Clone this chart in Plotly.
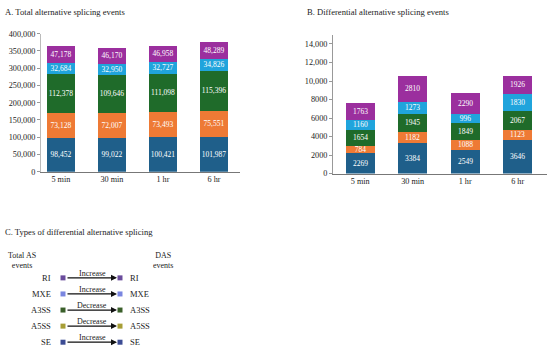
import plotly.graph_objects as go

categories = ["5 min", "30 min", "1 hr", "6 hr"]
series_names = ["SE", "A5SS", "A3SS", "MXE", "RI"]
series_colors = ["#1F5F8A", "#EE7A35", "#1F6B2A", "#20A4DC", "#9B2F9E"]

total_as = {
    "SE":   [98452, 99022, 100421, 101987],
    "A5SS": [73128, 72007, 73493, 75551],
    "A3SS": [112378, 109646, 111098, 115396],
    "MXE":  [32684, 32950, 32727, 34826],
    "RI":   [47178, 46170, 46958, 48289],
}
das = {
    "SE":   [2269, 3384, 2549, 3646],
    "A5SS": [784, 1182, 1088, 1123],
    "A3SS": [1654, 1945, 1849, 2067],
    "MXE":  [1160, 1273, 996, 1830],
    "RI":   [1763, 2810, 2290, 1926],
}

a_tickvals = [0, 50000, 100000, 150000, 200000, 250000, 300000, 350000, 400000]
a_ticktext = ["0", "50,000", "100,000", "150,000", "200,000", "250,000", "300,000", "350,000", "400,000"]
b_tickvals = [0, 2000, 4000, 6000, 8000, 10000, 12000, 14000]
b_ticktext = ["0", "2000", "4000", "6000", "8000", "10,000", "12,000", "14,000"]

c_types = ["RI", "MXE", "A3SS", "A5SS", "SE"]
c_changes = ["Increase", "Increase", "Decrease", "Decrease", "Increase"]
c_colors = ["#6A4C9C", "#7A86E0", "#3A5F2A", "#A79E36", "#3C4C94"]

FONT = "Liberation Serif"
W, H = 550, 355

fig = go.Figure()

for name, color in zip(series_names, series_colors):
    fig.add_trace(go.Bar(
        x=categories, y=total_as[name], name=name, marker_color=color,
        marker_line_width=0, width=0.55,
        text=[f"{v:,}" for v in total_as[name]], textposition="inside", textangle=0,
        insidetextanchor="middle", textfont=dict(color="white", size=7.5, family=FONT),
        xaxis="x", yaxis="y", showlegend=False))
for name, color in zip(series_names, series_colors):
    fig.add_trace(go.Bar(
        x=categories, y=das[name], name=name, marker_color=color,
        marker_line_width=0, width=0.55,
        text=[str(v) for v in das[name]], textposition="inside", textangle=0,
        insidetextanchor="middle", textfont=dict(color="white", size=7.5, family=FONT),
        xaxis="x2", yaxis="y2", showlegend=False))

# Panel C hidden axes (pixel-like units)
row_y = [281, 297.5, 314, 330.5, 347]
fig.add_trace(go.Scatter(
    x=[63] * len(c_types) + [120] * len(c_types), y=row_y + row_y,
    mode="markers", marker=dict(symbol="square", size=5, color=c_colors + c_colors),
    xaxis="x3", yaxis="y3", showlegend=False, hoverinfo="skip"))

def px(x):
    return x / W

def py(y):
    return 1 - y / H

tick_font = dict(family=FONT, size=8.2, color="#222")

fig.update_layout(
    width=W, height=H, margin=dict(l=0, r=0, t=0, b=0),
    paper_bgcolor="white", plot_bgcolor="white",
    barmode="stack", bargap=0,
    uniformtext=dict(minsize=7.5, mode="show"),
    font=dict(family=FONT, color="#222"),
    xaxis=dict(domain=[px(41), px(240)], range=[-0.39, 3.51], showgrid=False,
               showline=True, linecolor="#777", linewidth=1, ticks="", tickfont=tick_font,
               anchor="y", fixedrange=True),
    yaxis=dict(domain=[py(172), py(30.5)], range=[0, 400000], tickvals=a_tickvals,
               ticktext=a_ticktext, showgrid=False, showline=True, linecolor="#bbb",
               ticks="outside", ticklen=3, tickcolor="#999", tickfont=tick_font,
               zeroline=False, anchor="x"),
    xaxis2=dict(domain=[px(333), px(547)], range=[-0.52, 3.56], showgrid=False,
                showline=True, linecolor="#777", linewidth=1, ticks="", tickfont=tick_font,
                anchor="y2"),
    yaxis2=dict(domain=[py(174), py(31.5)], range=[0, 15000], tickvals=b_tickvals,
                ticktext=b_ticktext, showgrid=False, showline=True, linecolor="#999",
                ticks="outside", ticklen=3, tickcolor="#999", tickfont=tick_font,
                zeroline=False, anchor="x2"),
    xaxis3=dict(domain=[0, px(200)], range=[0, 200], visible=False, anchor="y3"),
    yaxis3=dict(domain=[0, py(250)], range=[355, 250], visible=False, anchor="x3"),
)

title_font = dict(family=FONT, size=8.6, color="#222")
ann = []
ann.append(dict(text="A. Total alternative splicing events", x=px(3), y=py(8), xref="paper",
                yref="paper", xanchor="left", yanchor="middle", showarrow=False,
                font=title_font))
ann.append(dict(text="B. Differential alternative splicing events", x=px(305), y=py(8),
                xref="paper", yref="paper", xanchor="left", yanchor="middle", showarrow=False,
                font=title_font))
ann.append(dict(text="C. Types of differential alternative splicing", x=px(3), y=py(234),
                xref="paper", yref="paper", xanchor="left", yanchor="middle", showarrow=False,
                font=title_font))
ann.append(dict(text="Total AS<br>events", x=22, y=263.5, xref="x3", yref="y3",
                showarrow=False, align="center", font=dict(family=FONT, size=8, color="#222")))
ann.append(dict(text="DAS<br>events", x=163, y=263.5, xref="x3", yref="y3",
                showarrow=False, align="center", font=dict(family=FONT, size=8, color="#222")))
for t, ch, yy in zip(c_types, c_changes, row_y):
    ann.append(dict(text=t, x=53, y=yy, xref="x3", yref="y3", xanchor="right",
                    showarrow=False, font=dict(family=FONT, size=8.5, color="#222")))
    ann.append(dict(text=t, x=128, y=yy, xref="x3", yref="y3", xanchor="left",
                    showarrow=False, font=dict(family=FONT, size=8.5, color="#222")))
    ann.append(dict(text=ch, x=92, y=yy - 5, xref="x3", yref="y3",
                    showarrow=False, font=dict(family=FONT, size=8, color="#222")))
    ann.append(dict(text="", x=117, y=yy, ax=66, ay=yy, xref="x3", yref="y3",
                    axref="x3", ayref="y3", showarrow=True, arrowhead=2, arrowsize=1,
                    arrowwidth=1.2, arrowcolor="#111"))
fig.update_layout(annotations=ann)

fig.write_html("out.html", config={"displayModeBar": False},
               post_script="document.body.style.margin='0';")
